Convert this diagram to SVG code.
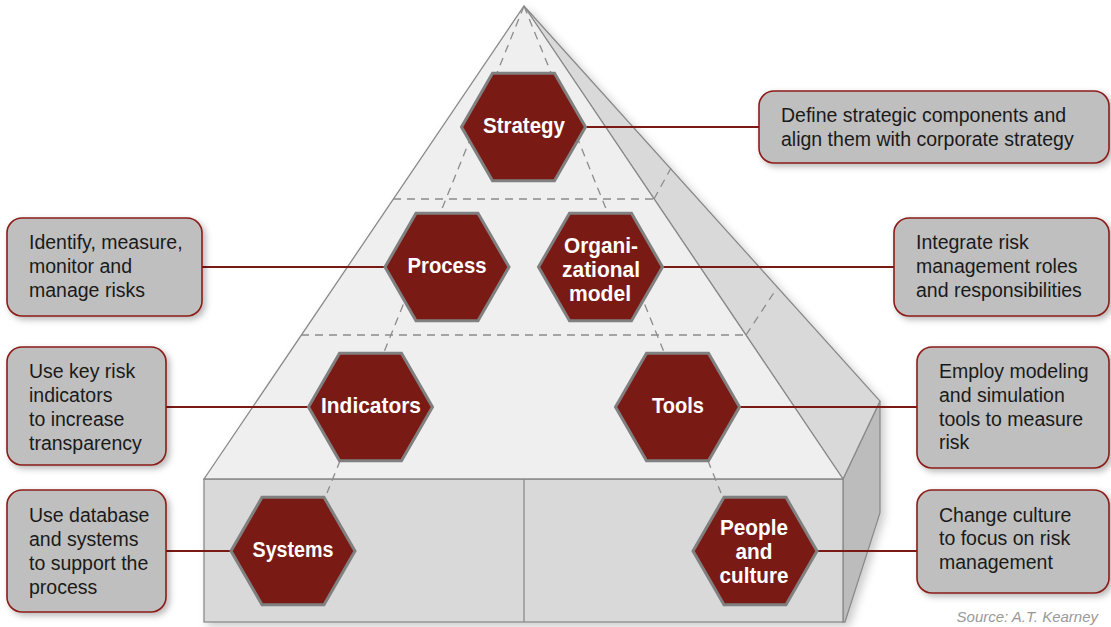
<svg xmlns="http://www.w3.org/2000/svg" width="1111" height="627" viewBox="0 0 1111 627">
  <defs>
    <filter id="shadow" x="-10%" y="-10%" width="130%" height="130%">
      <feDropShadow dx="3" dy="3" stdDeviation="3" flood-color="#000" flood-opacity="0.28"/>
    </filter>
    <filter id="softShadow" x="-10%" y="-10%" width="130%" height="130%">
      <feDropShadow dx="4" dy="4" stdDeviation="4" flood-color="#000" flood-opacity="0.2"/>
    </filter>
    <polygon id="hex" points="-62,0 -31,-53.7 31,-53.7 62,0 31,53.7 -31,53.7"/>
  </defs>
  <style>
    .edge { stroke: #8a8a8a; stroke-width: 1.3; }
    .dash { stroke: #8c8c8c; stroke-width: 1.3; stroke-dasharray: 8 6; fill: none; }
    .hexshape { fill: #7a1a15; stroke: #808080; stroke-width: 3; stroke-linejoin: miter; }
    .hexlabel { font-family: "Liberation Sans", Arial, sans-serif; font-weight: bold; font-size: 22px; fill: #ffffff; text-anchor: middle; }
    .callout { fill: #bfbfbf; stroke: #8b1c18; stroke-width: 1.6; filter: url(#shadow); }
    .calltext { font-family: "Liberation Sans", Arial, sans-serif; font-size: 19.5px; fill: #1a1a1a; }
    .link { stroke: #7a1a15; stroke-width: 2; fill: none; }
    .source { font-family: "Liberation Sans", Arial, sans-serif; font-style: italic; font-size: 15px; fill: #999999; }
  </style>

  <rect width="1111" height="627" fill="#ffffff"/>

  <!-- pyramid on a plinth -->
  <g id="pyramid">
    <g filter="url(#softShadow)">
      <polygon points="843,479 880,401 880,513 845,622 843,622" fill="#bcbcbc" class="edge"/>
      <polygon points="524,6 880,401 843,479" fill="#d9d9d9" class="edge"/>
      <rect x="204" y="479" width="639" height="143" fill="#d9d9d9" class="edge"/>
      <polygon points="524,6 843,479 204,479" fill="#efefef" class="edge"/>
    </g>
    <line x1="524" y1="479" x2="524" y2="622" class="edge" stroke-width="2"/>
    <!-- level separators -->
    <line x1="393" y1="199" x2="654" y2="199" class="dash"/>
    <line x1="654" y1="199" x2="671" y2="168" class="dash"/>
    <line x1="301" y1="335" x2="746" y2="335" class="dash"/>
    <line x1="746" y1="335" x2="777" y2="288" class="dash"/>
    <!-- inner guide lines -->
    <line x1="524" y1="6" x2="327" y2="493" class="dash"/>
    <line x1="524" y1="6" x2="721" y2="493" class="dash"/>
  </g>

  <!-- connectors -->
  <g id="connectors">
    <line x1="586" y1="127" x2="759" y2="127" class="link"/>
    <line x1="202" y1="267" x2="385" y2="267" class="link"/>
    <line x1="663" y1="267" x2="894" y2="267" class="link"/>
    <line x1="166" y1="407" x2="308" y2="407" class="link"/>
    <line x1="740" y1="407" x2="917" y2="407" class="link"/>
    <line x1="166" y1="551" x2="231" y2="551" class="link"/>
    <line x1="817" y1="551" x2="917" y2="551" class="link"/>
  </g>

  <!-- hexagon nodes -->
  <g id="node-strategy">
    <use href="#hex" x="523.5" y="127" class="hexshape"/>
    <text x="524" y="133" class="hexlabel" textLength="82" lengthAdjust="spacingAndGlyphs">Strategy</text>
  </g>
  <g id="node-process">
    <use href="#hex" x="447" y="267" class="hexshape"/>
    <text x="447" y="273" class="hexlabel" textLength="79" lengthAdjust="spacingAndGlyphs">Process</text>
  </g>
  <g id="node-organizational-model">
    <use href="#hex" x="600.5" y="267" class="hexshape"/>
    <text x="601" y="253" class="hexlabel" textLength="74" lengthAdjust="spacingAndGlyphs">Organi-</text>
    <text x="601" y="277" class="hexlabel" textLength="78" lengthAdjust="spacingAndGlyphs">zational</text>
    <text x="600" y="301" class="hexlabel" textLength="62" lengthAdjust="spacingAndGlyphs">model</text>
  </g>
  <g id="node-indicators">
    <use href="#hex" x="370.5" y="407" class="hexshape"/>
    <text x="371" y="413" class="hexlabel" textLength="100" lengthAdjust="spacingAndGlyphs">Indicators</text>
  </g>
  <g id="node-tools">
    <use href="#hex" x="677.5" y="407" class="hexshape"/>
    <text x="678" y="413" class="hexlabel" textLength="52" lengthAdjust="spacingAndGlyphs">Tools</text>
  </g>
  <g id="node-systems">
    <use href="#hex" x="293" y="551" class="hexshape"/>
    <text x="293" y="557" class="hexlabel" textLength="81" lengthAdjust="spacingAndGlyphs">Systems</text>
  </g>
  <g id="node-people-culture">
    <use href="#hex" x="755" y="551" class="hexshape"/>
    <text x="754" y="535" class="hexlabel" textLength="68" lengthAdjust="spacingAndGlyphs">People</text>
    <text x="754" y="559" class="hexlabel" textLength="37" lengthAdjust="spacingAndGlyphs">and</text>
    <text x="754" y="583" class="hexlabel" textLength="69" lengthAdjust="spacingAndGlyphs">culture</text>
  </g>

  <!-- callout nodes -->
  <g id="note-strategy">
    <rect x="759" y="91" width="350" height="72" rx="15" class="callout"/>
    <text x="781" y="122" class="calltext">Define strategic components and</text>
    <text x="781" y="146" class="calltext">align them with corporate strategy</text>
  </g>
  <g id="note-organizational-model">
    <rect x="894" y="218" width="215" height="98" rx="15" class="callout"/>
    <text x="916" y="249" class="calltext">Integrate risk</text>
    <text x="916" y="273" class="calltext">management roles</text>
    <text x="916" y="297" class="calltext">and responsibilities</text>
  </g>
  <g id="note-process">
    <rect x="7" y="218" width="195" height="98" rx="15" class="callout"/>
    <text x="29" y="249" class="calltext">Identify, measure,</text>
    <text x="29" y="273" class="calltext">monitor and</text>
    <text x="29" y="297" class="calltext">manage risks</text>
  </g>
  <g id="note-indicators">
    <rect x="7" y="347" width="159" height="118" rx="15" class="callout"/>
    <text x="29" y="378" class="calltext">Use key risk</text>
    <text x="29" y="402" class="calltext">indicators</text>
    <text x="29" y="426" class="calltext">to increase</text>
    <text x="29" y="450" class="calltext">transparency</text>
  </g>
  <g id="note-systems">
    <rect x="7" y="490" width="159" height="122" rx="15" class="callout"/>
    <text x="29" y="522" class="calltext">Use database</text>
    <text x="29" y="546" class="calltext">and systems</text>
    <text x="29" y="570" class="calltext">to support the</text>
    <text x="29" y="594" class="calltext">process</text>
  </g>
  <g id="note-tools">
    <rect x="917" y="347" width="192" height="121" rx="15" class="callout"/>
    <text x="939" y="378" class="calltext">Employ modeling</text>
    <text x="939" y="402" class="calltext">and simulation</text>
    <text x="939" y="426" class="calltext">tools to measure</text>
    <text x="939" y="449" class="calltext">risk</text>
  </g>
  <g id="note-people-culture">
    <rect x="917" y="490" width="192" height="103" rx="15" class="callout"/>
    <text x="939" y="522" class="calltext">Change culture</text>
    <text x="939" y="545" class="calltext">to focus on risk</text>
    <text x="939" y="569" class="calltext">management</text>
  </g>

  <text x="1098" y="622" class="source" text-anchor="end">Source: A.T. Kearney</text>
</svg>
